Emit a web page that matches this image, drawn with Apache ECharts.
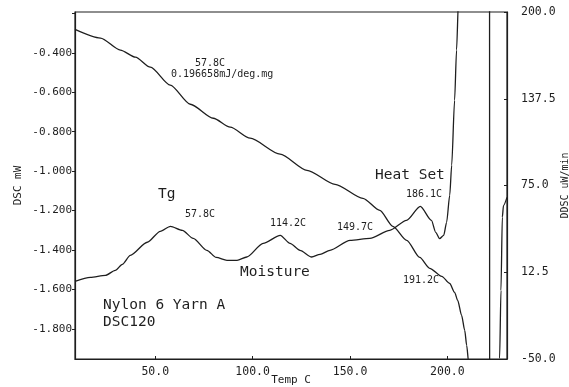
<!DOCTYPE html>
<html><head><meta charset="utf-8">
<script src="https://cdn.jsdelivr.net/npm/echarts@6/dist/echarts.min.js"></script>
<style>html,body{margin:0;padding:0;background:#fff}#c{width:569px;height:387px}</style>
</head><body><div id="c"></div>
<script>
// DSC curve (left axis, mW)
const dscTemp = [8.8, 21.9, 32.1, 39.8, 47.5, 57.7, 68.0, 79.8, 88.5, 98.7, 114.1, 127.9, 142.3, 156.6, 165.3, 172.0, 179.1, 185.8, 190.9, 197.1, 201.2, 203.7, 205.3, 207.3, 208.9, 209.9, 210.9, 215.0, 226.4, 226.8, 227.5, 228.2, 228.8, 230.6];
const dscMw   = [-0.281, -0.325, -0.386, -0.422, -0.473, -0.564, -0.661, -0.732, -0.777, -0.833, -0.914, -0.996, -1.067, -1.138, -1.199, -1.280, -1.351, -1.438, -1.493, -1.534, -1.570, -1.615, -1.656, -1.732, -1.808, -1.884, -1.970, -2.500, -2.500, -1.950, -1.605, -1.234, -1.174, -1.133];
// DDSC curve (right axis, uW/min)
const ddscTemp = [8.8, 16.7, 24.4, 29.5, 33.1, 37.2, 45.9, 52.6, 57.8, 63.9, 69.5, 76.5, 81.3, 86.8, 92.0, 97.0, 105.4, 114.2, 119.2, 124.3, 130.3, 134.6, 139.7, 150.0, 160.2, 170.4, 179.0, 186.1, 191.8, 194.0, 196.0, 198.1, 199.6, 201.2, 202.2, 203.7, 204.7, 205.7, 212.0, 221.6, 221.7, 230.6];
const ddscUw   = [5.9, 8.8, 10.2, 13.9, 18.2, 24.7, 34.1, 42.0, 45.6, 42.7, 36.9, 28.3, 23.2, 21.1, 21.1, 23.5, 33.3, 39.1, 33.3, 28.3, 23.5, 25.4, 28.3, 35.5, 36.9, 42.7, 49.9, 60.0, 49.9, 41.3, 36.7, 39.1, 48.5, 68.0, 89.6, 136.5, 172.6, 208.7, 500, 500, -150, -150];
// tick labels
const tempTicks = [50, 100, 150, 200];
const dscTicks = [-0.4, -0.6, -0.8, -1.0, -1.2, -1.4, -1.6, -1.8];
const ddscTicks = [-50, 12.5, 75, 137.5, 200];
// axis ranges
const tempRange = [8.8, 230.6];
const dscRange = [-1.953, -0.193];
const ddscRange = [-50, 200];
// annotation texts
const peakLabels = ['57.8C', '114.2C', '149.7C', '186.1C', '191.2C'];
const tgNote = ['57.8C', '0.196658mJ/deg.mg'];
const regionLabels = ['Tg', 'Moisture', 'Heat Set'];
const sampleLabels = ['Nylon 6 Yarn A', 'DSC120'];

const ink = '#1e1e1e';
const mono = '"DejaVu Sans Mono", "Liberation Mono", monospace';
const near = (v, list) => list.some(t => Math.abs(t - v) < 1e-6);

const chart = echarts.init(document.getElementById('c'), null, {renderer: 'canvas'});
const txt = (t, x, y, size) => ({type: 'text', x: x, y: y, style: {text: t, fill: ink, font: size + 'px ' + mono, textVerticalAlign: 'middle'}});

chart.setOption({
  animation: false,
  backgroundColor: '#fff',
  grid: {left: 75, right: 62, top: 12, bottom: 28, show: true, borderColor: ink, borderWidth: 1.2, containLabel: false, outerBoundsMode: 'none'},
  xAxis: {
    type: 'value', min: tempRange[0], max: tempRange[1], splitNumber: 4,
    name: 'Temp C', nameLocation: 'middle', nameGap: 16, nameMoveOverlap: false,
    nameTextStyle: {fontFamily: mono, fontSize: 11, color: ink},
    axisLine: {onZero: false, lineStyle: {color: ink, width: 1.2}},
    axisTick: {inside: true, length: 3, lineStyle: {color: ink}},
    splitLine: {show: false},
    axisLabel: {margin: 7, fontFamily: mono, fontSize: 11.5, color: ink, showMinLabel: false, showMaxLabel: false,
      formatter: v => near(v, tempTicks) ? v.toFixed(1) : ''}
  },
  yAxis: [{
    type: 'value', position: 'left', min: dscRange[0], max: dscRange[1], splitNumber: 8,
    name: 'DSC mW', nameLocation: 'middle', nameGap: 51, nameRotate: 90, nameMoveOverlap: false,
    nameTextStyle: {fontFamily: mono, fontSize: 11, color: ink},
    axisLine: {show: true, onZero: false, lineStyle: {color: ink, width: 1.2}},
    axisTick: {show: true, inside: false, length: 3, lineStyle: {color: ink}},
    splitLine: {show: false},
    axisLabel: {margin: 3, fontFamily: mono, fontSize: 11, color: ink, showMinLabel: false, showMaxLabel: false,
      formatter: v => near(v, dscTicks) ? v.toFixed(3) : ''}
  }, {
    type: 'value', position: 'right', min: ddscRange[0], max: ddscRange[1], interval: 62.5,
    name: 'DDSC uW/min', nameLocation: 'middle', nameGap: 53, nameRotate: 90, nameMoveOverlap: false,
    nameTextStyle: {fontFamily: mono, fontSize: 10, color: ink},
    axisLine: {show: true, onZero: false, lineStyle: {color: ink, width: 1.2}},
    axisTick: {show: true, inside: true, length: 3, lineStyle: {color: ink}},
    splitLine: {show: false},
    axisLabel: {margin: 14, fontFamily: mono, fontSize: 11.5, color: ink,
      formatter: v => near(v, ddscTicks) ? v.toFixed(1) : ''}
  }],
  series: [{
    type: 'line', yAxisIndex: 0, showSymbol: false, smooth: 0.25, smoothMonotone: 'x', clip: true,
    lineStyle: {color: ink, width: 1.3},
    data: dscTemp.map((t, i) => [t, dscMw[i]])
  }, {
    type: 'line', yAxisIndex: 1, showSymbol: false, smooth: 0.25, smoothMonotone: 'x', clip: true,
    lineStyle: {color: ink, width: 1.3},
    data: ddscTemp.map((t, i) => [t, ddscUw[i]])
  }],
  graphic: [
    txt(tgNote[0], 195, 63, 10),
    txt(tgNote[1], 171, 74, 10),
    txt(regionLabels[0], 158, 194, 14.5),
    txt(peakLabels[0], 185, 214, 10),
    txt(peakLabels[1], 270, 223, 10),
    txt(peakLabels[2], 337, 227, 10),
    txt(regionLabels[2], 375, 175, 14.5),
    txt(peakLabels[3], 406, 194, 10),
    txt(regionLabels[1], 240, 272, 14.5),
    txt(peakLabels[4], 403, 280, 10),
    txt(sampleLabels[0], 103, 305, 14.5),
    txt(sampleLabels[1], 103, 322, 14.5)
  ]
});
</script></body></html>
